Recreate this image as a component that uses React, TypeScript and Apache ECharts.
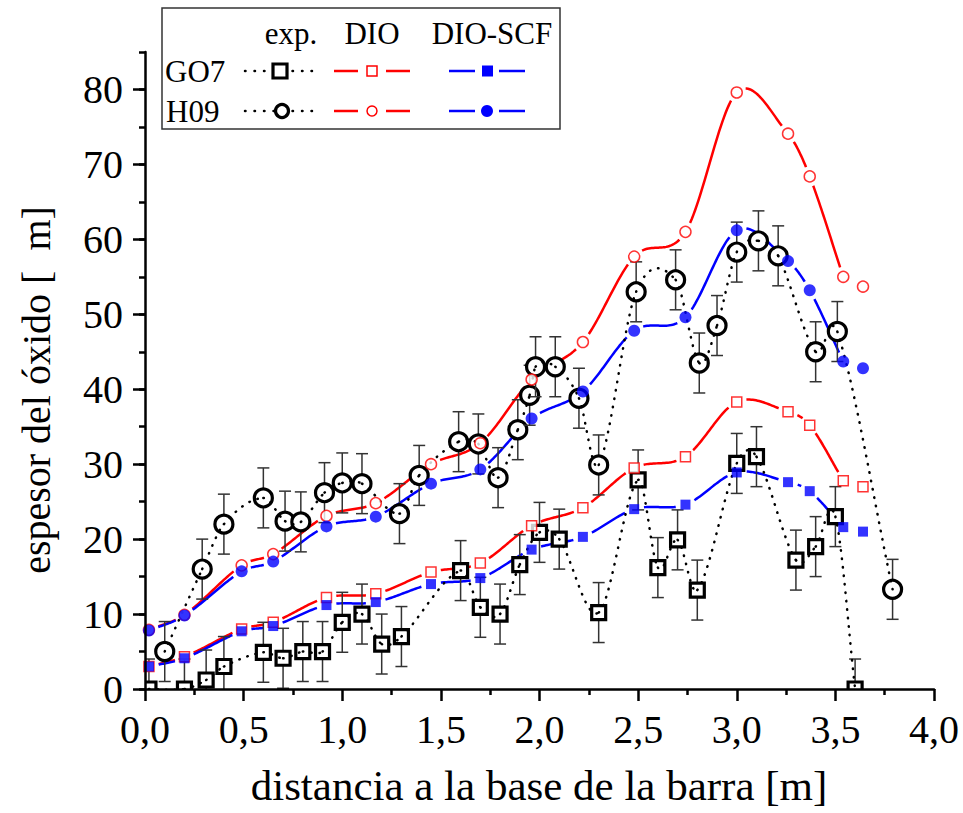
import React, { useEffect, useRef } from "react";
import * as echarts from "echarts";

// Model positions along the bar (m)
const modelX = [0.02, 0.2, 0.49, 0.65, 0.92, 1.17, 1.45, 1.7, 1.96, 2.22, 2.48, 2.74, 3.0, 3.26, 3.37, 3.54, 3.64];
const go7Dio = [3.0, 4.3, 8.0, 8.9, 12.2, 12.7, 15.6, 16.8, 21.8, 24.2, 29.5, 31.0, 38.3, 37.0, 35.2, 27.8, 27.0];
const go7DioScf = [3.0, 4.1, 7.7, 8.4, 11.2, 11.6, 14.0, 14.8, 18.6, 20.3, 24.0, 24.6, 28.9, 27.6, 26.4, 21.6, 21.0];
const h09Dio = [7.9, 9.9, 16.5, 18.0, 23.1, 24.8, 30.0, 32.8, 41.3, 46.3, 57.7, 61.0, 79.6, 74.1, 68.4, 55.0, 53.7];
const h09DioScf = [7.8, 9.8, 15.7, 17.0, 21.7, 23.0, 27.4, 29.3, 36.1, 39.7, 47.8, 49.6, 61.2, 57.1, 53.2, 43.7, 42.8];

// Measured oxide thickness (exp.)
const go7ExpX = [0.02, 0.2, 0.31, 0.4, 0.6, 0.7, 0.8, 0.9, 1.0, 1.1, 1.2, 1.3, 1.6, 1.7, 1.8, 1.9, 2.0, 2.1, 2.3, 2.5, 2.6, 2.7, 2.8, 3.0, 3.1, 3.3, 3.4, 3.5, 3.6];
const go7ExpY = [0, 0, 1.2, 3.0, 4.9, 4.1, 5.0, 5.0, 8.9, 10.0, 6.0, 7.0, 15.8, 10.9, 10.0, 16.6, 20.9, 20.0, 10.2, 27.9, 16.2, 19.9, 13.2, 30.1, 31.0, 17.2, 19.0, 23.0, 0];
const h09ExpX = [0.1, 0.29, 0.4, 0.6, 0.71, 0.79, 0.91, 1.0, 1.1, 1.29, 1.39, 1.59, 1.69, 1.79, 1.89, 1.95, 1.98, 2.08, 2.2, 2.3, 2.49, 2.69, 2.81, 2.9, 3.0, 3.11, 3.21, 3.4, 3.51, 3.79];
const h09ExpY = [5.0, 16.0, 22.0, 25.5, 22.4, 22.3, 26.2, 27.5, 27.4, 23.4, 28.5, 33.0, 32.7, 28.2, 34.6, 39.2, 43.0, 43.0, 38.8, 29.9, 53.0, 54.6, 43.5, 48.5, 58.3, 59.8, 57.8, 45.0, 47.7, 13.3];
const expError = 4;

const yMajorTicks = [0, 10, 20, 30, 40, 50, 60, 70, 80];

const FONT = "Liberation Serif";
const RED = "#ff0000";
const BLUE = "#0000ff";

const pairs = (xs: number[], ys: number[]) => xs.map((x, i) => [x, ys[i]]);

// Cubic Hermite segment i -> i+1 with finite-difference tangents (spline through the points)
const hermiteSegment = (xs: number[], ys: number[], i: number) => {
  const n = xs.length;
  const slope = (k: number) =>
    k === 0
      ? (ys[1] - ys[0]) / (xs[1] - xs[0])
      : k === n - 1
      ? (ys[n - 1] - ys[n - 2]) / (xs[n - 1] - xs[n - 2])
      : (ys[k + 1] - ys[k - 1]) / (xs[k + 1] - xs[k - 1]);
  const x0 = xs[i];
  const h = xs[i + 1] - x0;
  const y0 = ys[i];
  const y1 = ys[i + 1];
  const m0 = slope(i);
  const m1 = slope(i + 1);
  return (t: number) => {
    const t2 = t * t;
    const t3 = t2 * t;
    return [
      x0 + h * t,
      (2 * t3 - 3 * t2 + 1) * y0 + (t3 - 2 * t2 + t) * h * m0 + (-2 * t3 + 3 * t2) * y1 + (t3 - t2) * h * m1,
    ];
  };
};

// Remove `gap` pixels of arc length from both ends of a polyline
const trimEnds = (pts: number[][], gap: number) => {
  if (gap <= 0) return pts;
  const cut = (arr: number[][]) => {
    let acc = 0;
    for (let k = 1; k < arr.length; k++) {
      const d = Math.hypot(arr[k][0] - arr[k - 1][0], arr[k][1] - arr[k - 1][1]);
      if (acc + d >= gap) {
        const f = (gap - acc) / d;
        const p = [arr[k - 1][0] + (arr[k][0] - arr[k - 1][0]) * f, arr[k - 1][1] + (arr[k][1] - arr[k - 1][1]) * f];
        return [p, ...arr.slice(k)];
      }
      acc += d;
    }
    return [] as number[][];
  };
  const a = cut(pts);
  if (a.length < 2) return [];
  const b = cut(a.slice().reverse());
  return b.length < 2 ? [] : b.reverse();
};

// Spline curve drawn segment by segment through a series' points
const splineSeries = (xs: number[], ys: number[], stroke: any, gap: number, z: number) => ({
  type: "custom",
  silent: true,
  clip: true,
  data: pairs(xs, ys),
  encode: { x: 0, y: 1 },
  renderItem: (params: any, api: any) => {
    const i = params.dataIndex;
    if (i >= xs.length - 1) return null;
    const f = hermiteSegment(xs, ys, i);
    const N = 32;
    const pts: number[][] = [];
    for (let k = 0; k <= N; k++) pts.push(api.coord(f(k / N)));
    const trimmed = trimEnds(pts, gap);
    if (trimmed.length < 2) return null;
    return { type: "polyline", shape: { points: trimmed }, style: { fill: "none", ...stroke } };
  },
  z,
});

const modelLine = (ys: number[], color: string) =>
  splineSeries(modelX.slice(0, -1), ys.slice(0, -1), { stroke: color, lineWidth: 2.5 }, 10, 2);

const expDotted = (xs: number[], ys: number[]) =>
  splineSeries(xs, ys, { stroke: "#000", lineWidth: 2.5, lineDash: [0.5, 8], lineCap: "round" }, 0, 4);

const modelMarkers = (ys: number[], symbol: string, size: number, color: string, filled: boolean) => ({
  type: "scatter",
  silent: true,
  symbol,
  symbolSize: size,
  itemStyle: filled
    ? { color, borderWidth: 0 }
    : { color: "#fff", borderColor: color, borderWidth: 1.5 },
  data: pairs(modelX, ys),
  z: 5,
});

const expPoints = (xs: number[], ys: number[], shape: "square" | "circle") => ({
  type: "custom",
  silent: true,
  clip: true,
  data: pairs(xs, ys),
  encode: { x: 0, y: 1 },
  renderItem: (_p: any, api: any) => {
    const x = api.value(0);
    const y = api.value(1);
    const c = api.coord([x, y]);
    const hi = api.coord([x, y + expError]);
    const lo = api.coord([x, y - expError]);
    const cap = 6;
    const bar = { stroke: "#333", lineWidth: 1.5 };
    const mark =
      shape === "square"
        ? {
            type: "rect",
            shape: { x: c[0] - 7, y: c[1] - 7, width: 14, height: 14 },
            style: { fill: "#fff", stroke: "#000", lineWidth: 3.2 },
          }
        : {
            type: "circle",
            shape: { cx: c[0], cy: c[1], r: 9 },
            style: { fill: "#fff", stroke: "#000", lineWidth: 3.2 },
          };
    return {
      type: "group",
      children: [
        { type: "line", shape: { x1: c[0], y1: hi[1], x2: c[0], y2: lo[1] }, style: bar },
        { type: "line", shape: { x1: c[0] - cap, y1: hi[1], x2: c[0] + cap, y2: hi[1] }, style: bar },
        { type: "line", shape: { x1: c[0] - cap, y1: lo[1], x2: c[0] + cap, y2: lo[1] }, style: bar },
        mark,
      ],
    };
  },
  z: 3,
});

const txt = (text: string, x: number, y: number, align = "left", size = 31) => ({
  type: "text",
  x,
  y,
  style: { text, fill: "#000", fontSize: size, fontFamily: FONT, textAlign: align, textVerticalAlign: "middle" },
  z: 20,
});

const seg = (x1: number, x2: number, y: number, color: string, dotted = false) => ({
  type: "line",
  shape: { x1, y1: y, x2, y2: y },
  style: dotted
    ? { stroke: color, lineWidth: 2.5, lineDash: [0.5, 9], lineCap: "round" }
    : { stroke: color, lineWidth: 2.5 },
  z: 20,
});

const legendGraphics = [
  {
    type: "rect",
    shape: { x: 162, y: 8, width: 398, height: 121 },
    style: { fill: "#fff", stroke: "#333", lineWidth: 1.5 },
    z: 19,
  },
  txt("exp.", 291, 33, "center"),
  txt("DIO", 372, 33, "center"),
  txt("DIO-SCF", 492, 33, "center"),
  txt("GO7", 165, 71),
  txt("H09", 166, 111),
  // GO7 row
  seg(245, 315, 71, "#000", true),
  { type: "rect", shape: { x: 273, y: 64, width: 14, height: 14 }, style: { fill: "#fff", stroke: "#000", lineWidth: 3.2 }, z: 21 },
  seg(334, 358, 71, RED),
  seg(386, 410, 71, RED),
  { type: "rect", shape: { x: 367, y: 66, width: 10, height: 10 }, style: { fill: "#fff", stroke: RED, lineWidth: 1.5 }, z: 21 },
  seg(449, 475, 71, BLUE),
  seg(499, 525, 71, BLUE),
  { type: "rect", shape: { x: 482, y: 65.5, width: 11, height: 11 }, style: { fill: BLUE }, z: 21 },
  // H09 row
  seg(245, 315, 111, "#000", true),
  { type: "circle", shape: { cx: 282, cy: 111, r: 6.5 }, style: { fill: "#fff", stroke: "#000", lineWidth: 3.2 }, z: 21 },
  seg(334, 358, 111, RED),
  seg(386, 410, 111, RED),
  { type: "circle", shape: { cx: 372, cy: 111, r: 5 }, style: { fill: "#fff", stroke: RED, lineWidth: 1.5 }, z: 21 },
  seg(449, 475, 111, BLUE),
  seg(499, 525, 111, BLUE),
  { type: "circle", shape: { cx: 487, cy: 111, r: 6 }, style: { fill: BLUE }, z: 21 },
];

const axisLineStyle = { color: "#000", width: 2.5 };

const option: any = {
  animation: false,
  backgroundColor: "#fff",
  textStyle: { fontFamily: FONT, color: "#000" },
  grid: { left: 145, right: 29, top: 52, bottom: 124, containLabel: false },
  xAxis: [
    {
      type: "value",
      min: 0,
      max: 4,
      interval: 0.5,
      axisLine: { lineStyle: axisLineStyle },
      axisTick: { inside: false, length: 12, lineStyle: axisLineStyle },
      minorTick: { show: true, splitNumber: 2, length: 6, lineStyle: axisLineStyle },
      splitLine: { show: false },
      minorSplitLine: { show: false },
      axisLabel: {
        margin: 20,
        color: "#000",
        fontSize: 40,
        fontFamily: FONT,
        formatter: (v: number) => v.toFixed(1).replace(".", ","),
      },
      z: 6,
    },
  ],
  yAxis: [
    {
      type: "value",
      min: 0,
      max: 85,
      interval: 5,
      position: "left",
      axisLine: { show: true, lineStyle: axisLineStyle },
      axisTick: { show: true, inside: false, length: 6, lineStyle: axisLineStyle },
      axisLabel: { show: false },
      splitLine: { show: false },
      z: 6,
    },
    {
      type: "value",
      min: 0,
      max: 85,
      interval: 10,
      position: "left",
      offset: 0,
      axisLine: { show: false },
      axisTick: { show: true, inside: false, length: 12, lineStyle: axisLineStyle, customValues: yMajorTicks },
      axisLabel: {
        margin: 22,
        color: "#000",
        fontSize: 40,
        fontFamily: FONT,
        customValues: yMajorTicks,
      },
      splitLine: { show: false },
      z: 6,
    },
  ],
  graphic: [
    {
      type: "text",
      x: 36,
      y: 390,
      rotation: Math.PI / 2,
      style: {
        text: "espesor del óxido [\u00a0\u00a0m]",
        fill: "#000",
        fontSize: 40,
        fontFamily: FONT,
        textAlign: "center",
        textVerticalAlign: "middle",
      },
    },
    {
      type: "text",
      x: 539,
      y: 785,
      style: {
        text: "distancia a la base de la barra [m]",
        fill: "#000",
        fontSize: 43,
        fontFamily: FONT,
        textAlign: "center",
        textVerticalAlign: "middle",
      },
    },
    ...legendGraphics,
  ],
  series: [
    modelLine(go7Dio, RED),
    modelLine(go7DioScf, BLUE),
    modelLine(h09Dio, RED),
    modelLine(h09DioScf, BLUE),
    expPoints(go7ExpX, go7ExpY, "square"),
    expPoints(h09ExpX, h09ExpY, "circle"),
    expDotted(go7ExpX, go7ExpY),
    expDotted(h09ExpX, h09ExpY),
    modelMarkers(go7Dio, "rect", 10, RED, false),
    modelMarkers(go7DioScf, "rect", 10, BLUE, true),
    modelMarkers(h09Dio, "circle", 11, RED, false),
    modelMarkers(h09DioScf, "circle", 12, BLUE, true),
  ],
};

export default function App() {
  const ref = useRef<HTMLDivElement>(null);
  useEffect(() => {
    if (!ref.current) return;
    const chart = echarts.init(ref.current, null, { renderer: "svg" });
    chart.setOption(option);
    return () => chart.dispose();
  }, []);
  return (
    <div
      ref={ref}
      style={{ position: "fixed", left: 0, top: 0, width: 963, height: 813, background: "#fff" }}
    />
  );
}
